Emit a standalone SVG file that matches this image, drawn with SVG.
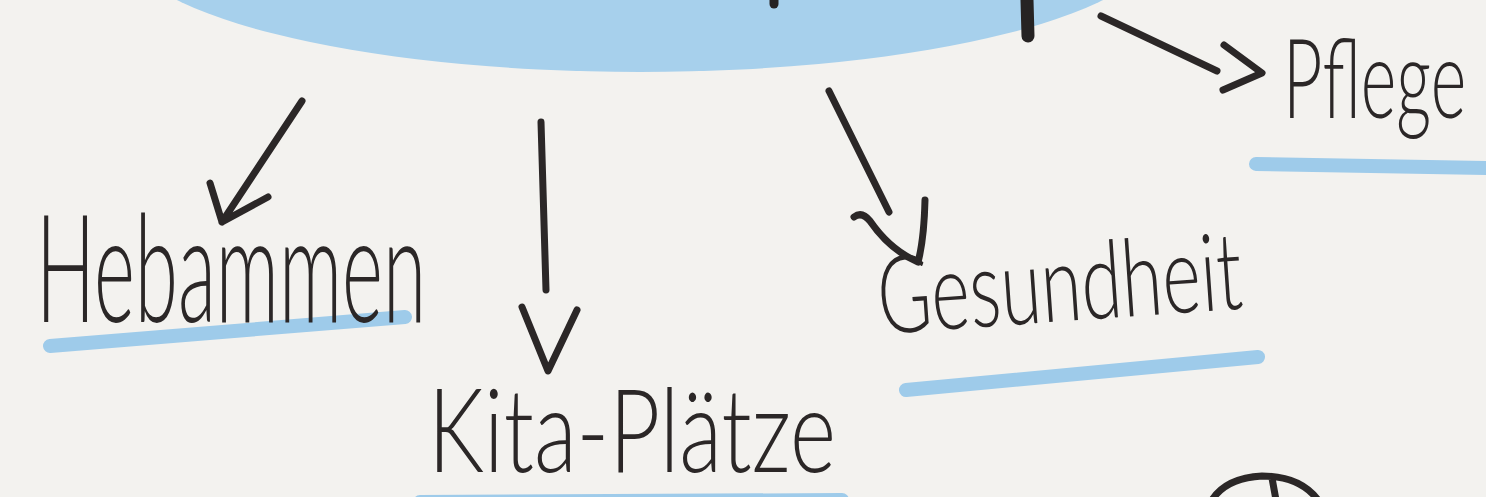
<svg xmlns="http://www.w3.org/2000/svg" width="1486" height="497" viewBox="0 0 1486 497">
<style>
.ink{fill:none;stroke:#2b2727;stroke-width:7;stroke-linecap:round;stroke-linejoin:round}
.lbl{font-family:Lato,"Noto Sans","DejaVu Sans",sans-serif;font-weight:300;fill:#2b2727}
.ul{fill:none;stroke:#9ecbea;stroke-width:14;stroke-linecap:round}
</style>
<rect width="1486" height="497" fill="#f3f2ef"/>
<g id="center">
<ellipse cx="640" cy="-60" rx="520" ry="132" fill="#a7d0ec"/>
<path d="M1027 0 L1028 36" stroke="#262323" stroke-width="13" stroke-linecap="round" fill="none"/>
<path d="M774 0 L774 4" stroke="#262323" stroke-width="9" stroke-linecap="round" fill="none"/>
</g>
<g id="connectors" class="ink">
<path d="M302 101 L222 222 M210 183 L222 222 L268 197"/>
<path d="M541 122 L546 290 M522 307 L548 371 L577 310"/>
<path d="M829 91 L889 212 M854 217 Q862 211 870 221 Q890 250 918 262 Q924 240 925 200"/>
<path d="M1101 16 L1217 71 M1224 45 L1262 73 L1223 90"/>
</g>
<g id="hebammen">
<path class="ul" d="M50 346 L405 317"/>
<text class="lbl" x="36" y="322" font-size="150" textLength="390" lengthAdjust="spacingAndGlyphs">Hebammen</text>
</g>
<g id="kita">
<path class="ul" d="M420 502 L842 500"/>
<text class="lbl" x="428" y="472" font-size="116" textLength="408" lengthAdjust="spacingAndGlyphs">Kita-Plätze</text>
</g>
<g id="gesundheit">
<path class="ul" d="M906 390 L1258 357"/>
<text class="lbl" x="880" y="334" font-size="108" textLength="365" lengthAdjust="spacingAndGlyphs" transform="rotate(-4 880 334)">Gesundheit</text>
</g>
<g id="pflege">
<path class="ul" d="M1256 164 L1490 168"/>
<text class="lbl" x="0" y="0" font-size="110" transform="translate(1283 118) scale(0.62 1)">Pflege</text>
</g>
<g id="globe">
<path class="ink" d="M1212 500 Q1226 478 1262 476 Q1300 476 1318 500 M1272 478 L1276 500"/>
</g>
</svg>
